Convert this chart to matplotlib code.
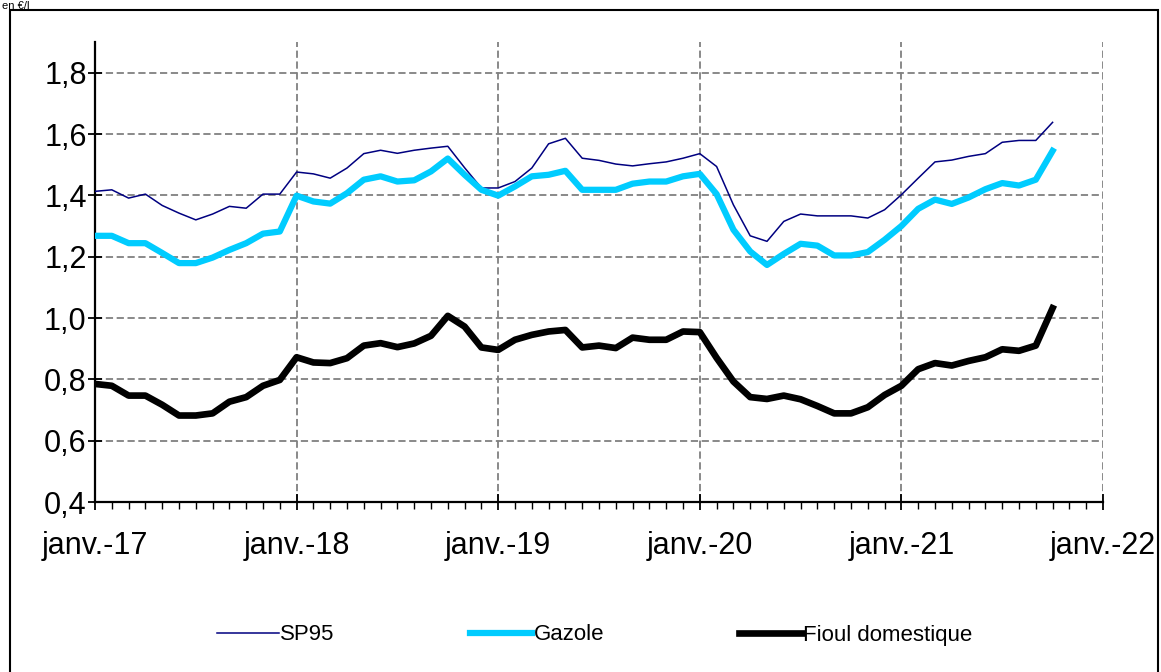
import matplotlib
matplotlib.use('Agg')
import matplotlib.pyplot as plt
import matplotlib.patches as patches
import numpy as np

plt.rcParams['font.family'] = ['Liberation Sans', 'DejaVu Sans']

# monthly prices, janv. 2017 -> oct. 2021 (en euros par litre)
sp95 = [1.413, 1.418, 1.391, 1.404, 1.367, 1.342, 1.320, 1.339, 1.364, 1.358, 1.404, 1.404,
        1.476, 1.470, 1.456, 1.489, 1.536, 1.547, 1.537, 1.547, 1.554, 1.560,
        1.490, 1.424, 1.424, 1.445, 1.489, 1.568, 1.586, 1.521, 1.514, 1.502, 1.496, 1.503, 1.509, 1.521,
        1.536, 1.494, 1.369, 1.268, 1.250, 1.315, 1.339, 1.333, 1.333, 1.333, 1.326, 1.353,
        1.402, 1.456, 1.509, 1.515, 1.527, 1.536, 1.573, 1.579, 1.579, 1.638]
gazole = [1.268, 1.268, 1.244, 1.244, 1.212, 1.179, 1.179, 1.197, 1.222, 1.244, 1.275, 1.282,
          1.399, 1.380, 1.373, 1.407, 1.451, 1.462, 1.445, 1.449, 1.478, 1.520,
          1.467, 1.418, 1.399, 1.429, 1.462, 1.467, 1.480, 1.418, 1.418, 1.418, 1.438, 1.445, 1.445, 1.462,
          1.470, 1.404, 1.288, 1.217, 1.173, 1.209, 1.242, 1.236, 1.204, 1.204, 1.215, 1.255,
          1.300, 1.356, 1.386, 1.372, 1.393, 1.420, 1.440, 1.432, 1.451, 1.545]
fioul = [0.785, 0.779, 0.747, 0.747, 0.717, 0.682, 0.682, 0.689, 0.727, 0.742, 0.779, 0.798,
         0.872, 0.855, 0.853, 0.869, 0.910, 0.918, 0.905, 0.917, 0.942, 1.007,
         0.972, 0.904, 0.896, 0.929, 0.945, 0.956, 0.961, 0.904, 0.910, 0.902, 0.936, 0.929, 0.929, 0.956,
         0.954, 0.870, 0.793, 0.742, 0.736, 0.747, 0.735, 0.713, 0.689, 0.689, 0.709, 0.749,
         0.779, 0.833, 0.853, 0.845, 0.860, 0.872, 0.898, 0.893, 0.910, 1.032]
months = np.arange(len(sp95))
year_labels = ['janv.-17', 'janv.-18', 'janv.-19', 'janv.-20', 'janv.-21', 'janv.-22']
y_ticks = [0.4, 0.6, 0.8, 1.0, 1.2, 1.4, 1.6, 1.8]

fig = plt.figure(figsize=(11.61, 6.72), dpi=100)
ax = fig.add_axes([95/1161, 1 - 502/672, 1008/1161, 460/672])

ax.plot(months, sp95, color='#000080', lw=1.1, label='SP95', zorder=3)
ax.plot(months, gazole, color='#00CCFF', lw=4.5, label='Gazole', zorder=3)
ax.plot(months, fioul, color='black', lw=4.8, label='Fioul domestique', zorder=3)

ax.set_xlim(0, 60)
ax.set_ylim(0.4, 1.9)
ax.set_xticks(np.arange(0, 61, 12))
ax.set_xticklabels(year_labels)
ax.set_xticks(np.arange(0, 61, 1), minor=True)
ax.set_yticks(y_ticks)
ax.set_yticklabels([('%.1f' % v).replace('.', ',') for v in y_ticks])

ax.grid(True, which='major', color='#808080', ls=(0, (4, 2)), lw=1.3)
ax.set_axisbelow(True)
for s in ['top', 'right']:
    ax.spines[s].set_visible(False)
ax.spines['left'].set_linewidth(1.6)
ax.spines['bottom'].set_linewidth(1.6)

ax.tick_params(axis='y', which='major', direction='inout', length=10, width=1.3, labelsize=22, pad=1)
ax.tick_params(axis='x', which='major', direction='inout', length=12, width=1.3, labelsize=22, pad=15)
ax.tick_params(axis='x', which='minor', direction='out', length=5, width=1.0)

leg = fig.legend(loc='center', bbox_to_anchor=(0.512, 1 - 635/672), ncol=3, frameon=False,
                 fontsize=16, handlelength=2.8, handletextpad=0.05, columnspacing=6.1)

fig.patches.append(patches.Rectangle((10/1161, -0.05), 1148/1161, 1.05 - 10/672, transform=fig.transFigure,
                                     fill=False, edgecolor='black', lw=1.5))
fig.text(0.002, 0.999, 'en €/l', ha='left', va='top', fontsize=8)

plt.savefig('out.png', dpi=100)
